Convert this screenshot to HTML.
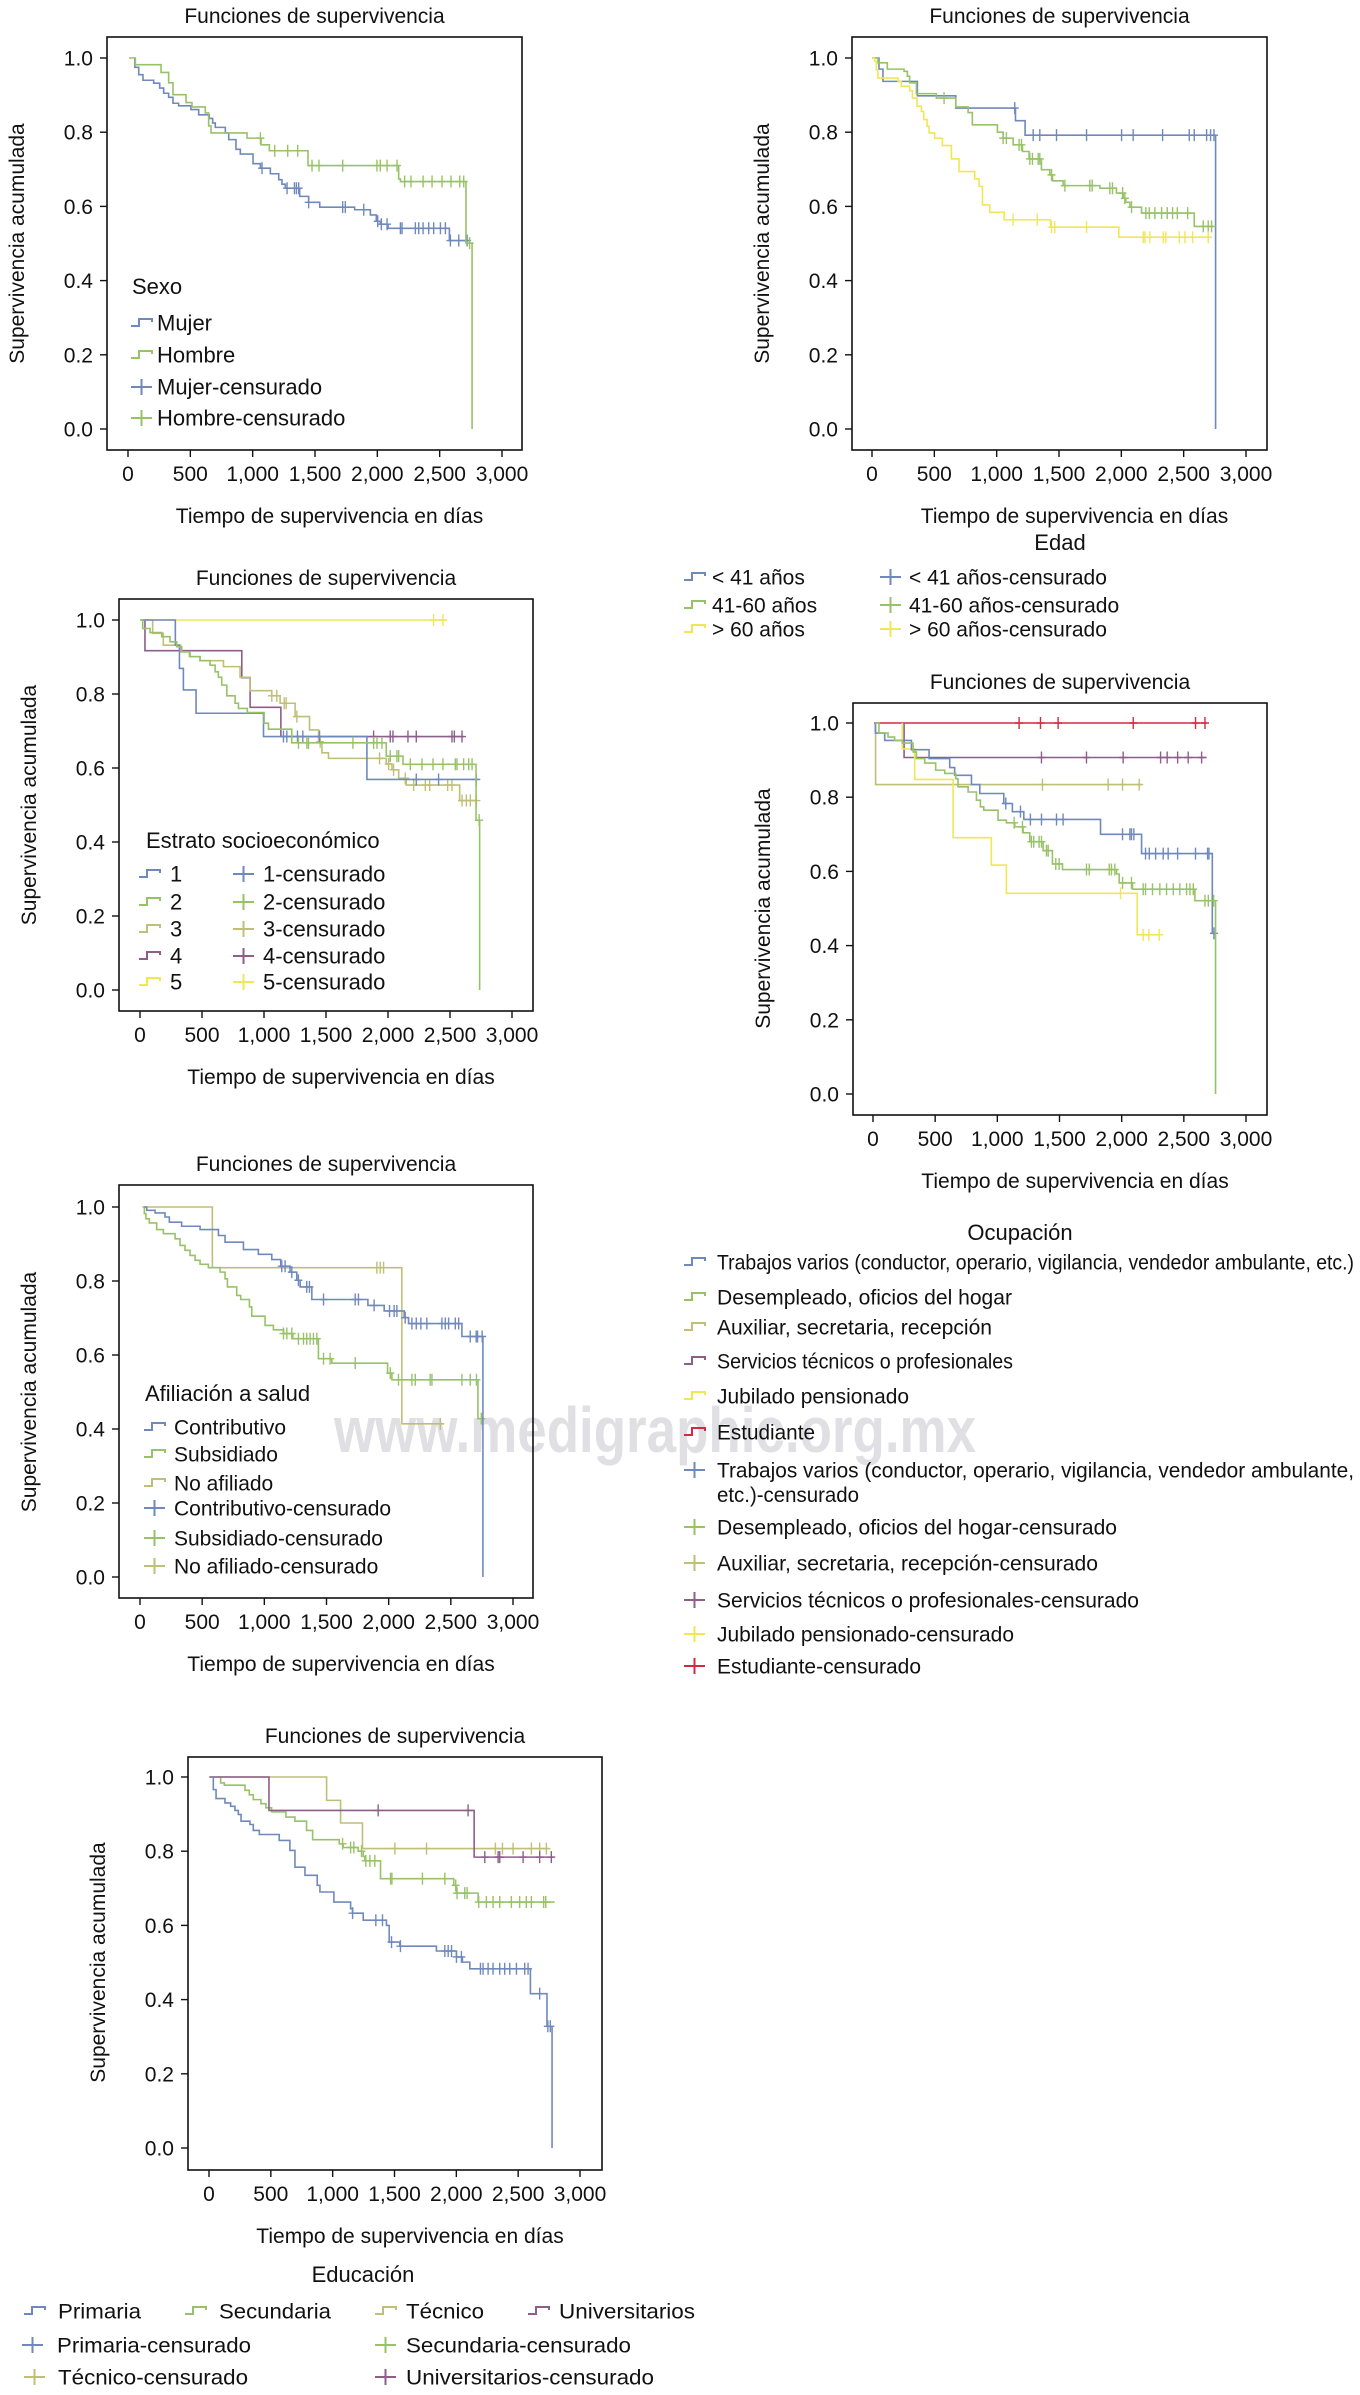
<!DOCTYPE html>
<html lang="es">
<head>
<meta charset="utf-8">
<title>Funciones de supervivencia</title>
<style>
html,body{margin:0;padding:0;background:#fff;}
body{width:1360px;height:2395px;overflow:hidden;}
svg{display:block;font-family:"Liberation Sans",Arial,sans-serif;}
</style>
</head>
<body>
<svg id="fig" xmlns="http://www.w3.org/2000/svg" width="1360" height="2395" viewBox="0 0 1360 2395">
  <rect x="0" y="0" width="1360" height="2395" fill="#fff"/>
  <text x="334" y="1452" font-size="64" font-weight="bold" fill="#e0e0e4" textLength="642" lengthAdjust="spacingAndGlyphs">www.medigraphic.org.mx</text>
</svg>
<script>
// ---------- shared tick data ----------
const yTickValues = [0, 0.2, 0.4, 0.6, 0.8, 1.0];
const yTickLabels = ["0.0", "0.2", "0.4", "0.6", "0.8", "1.0"];
const xTickValues = [0, 500, 1000, 1500, 2000, 2500, 3000];
const xTickLabels = ["0", "500", "1,000", "1,500", "2,000", "2,500", "3,000"];

// ---------- Plot 1: Sexo ----------
const p1MujerT = [55,86,120,206,254,286,326,361,406,505,567,652,679,700,781,808,866,901,1003,1062,1142,1209,1235,1262,1377,1449,1538,1818,1944,1992,2024,2086,2578];
const p1MujerS = [0.975,0.955,0.94,0.932,0.919,0.905,0.894,0.878,0.871,0.861,0.847,0.837,0.825,0.813,0.798,0.78,0.754,0.741,0.715,0.703,0.688,0.672,0.66,0.649,0.627,0.611,0.598,0.591,0.577,0.56,0.552,0.541,0.508];
const p1MujerC = [1075,1276,1335,1351,1369,1449,1722,1743,1891,2003,2032,2078,2185,2198,2305,2332,2367,2412,2452,2506,2546,2586,2653,2720];
const p1HombreT = [59,265,326,361,465,513,620,647,666,955,1067,1134,1444,2171,2185,2711,2760];
const p1HombreS = [0.982,0.961,0.933,0.901,0.88,0.868,0.852,0.817,0.798,0.784,0.766,0.75,0.71,0.674,0.667,0.501,0];
const p1HombreC = [1062,1177,1281,1361,1476,1532,1722,1997,2024,2078,2158,2219,2270,2367,2439,2519,2591,2661,2693,2740];

// ---------- Plot 2: Edad ----------
const p2MenorT = [56,88,364,672,1151,1228,2756];
const p2MenorS = [0.97,0.937,0.898,0.865,0.831,0.792,0];
const p2MenorC = [1145,1293,1346,1480,1721,2002,2095,2331,2545,2585,2684,2716,2743];
const p2MedioT = [48,123,257,284,302,356,516,672,771,805,1006,1052,1132,1207,1260,1359,1426,1448,1533,1828,1961,2015,2036,2069,2162,2585];
const p2MedioS = [0.987,0.97,0.964,0.951,0.933,0.904,0.892,0.868,0.853,0.82,0.8,0.784,0.766,0.748,0.728,0.699,0.685,0.669,0.656,0.649,0.636,0.622,0.611,0.598,0.582,0.546];
const p2MedioC = [578,1052,1078,1180,1199,1266,1287,1333,1346,1440,1547,1747,1766,1908,1929,2010,2028,2082,2197,2224,2269,2323,2368,2411,2449,2532,2657,2697,2724];
const p2MayorT = [21,35,48,209,235,302,324,361,396,415,442,458,503,565,637,698,824,859,886,945,1060,1432,1980];
const p2MayorS = [0.991,0.968,0.946,0.937,0.924,0.912,0.892,0.87,0.856,0.834,0.816,0.798,0.784,0.764,0.728,0.694,0.674,0.654,0.604,0.584,0.564,0.544,0.517];
const p2MayorC = [1132,1325,1440,1466,1721,2176,2189,2229,2336,2357,2465,2510,2572,2697];

// ---------- Plot 3: Estrato ----------
const p3E1T = [285,318,350,452,996,1830];
const p3E1S = [0.932,0.869,0.811,0.748,0.685,0.569];
const p3E1C = [1157,1184,1270,1313,1448,2228,2408,2712];
const p3E2T = [22,81,175,242,296,336,404,484,565,606,632,659,700,767,794,866,1001,1036,1224,1986,2121,2710,2739];
const p3E2S = [0.977,0.966,0.955,0.941,0.928,0.914,0.901,0.89,0.878,0.86,0.845,0.824,0.795,0.775,0.761,0.75,0.721,0.705,0.668,0.632,0.61,0.459,0];
const p3E2C = [1278,1346,1359,1717,1884,1911,1951,2018,2072,2086,2180,2274,2363,2443,2543,2556,2610,2651,2678,2735];
const p3E3T = [102,188,328,398,484,673,807,888,1063,1130,1251,1367,1440,1467,1520,1986,2032,2086,2147,2578];
const p3E3S = [0.964,0.932,0.914,0.901,0.89,0.874,0.845,0.809,0.795,0.775,0.739,0.703,0.671,0.641,0.626,0.611,0.595,0.572,0.554,0.512];
const p3E3C = [1063,1103,1163,1179,1265,1453,1932,2005,2045,2139,2207,2301,2336,2481,2516,2597,2632,2664,2713];
const p3E4T = [40,821,888,1136];
const p3E4S = [0.917,0.844,0.764,0.685];
const p3E4C = [1884,2018,2040,2161,2228,2516,2535,2597];
const p3E5T = [];
const p3E5S = [];
const p3E5C = [2368,2443];

// ---------- Plot 4: Ocupación ----------
const p4TrabT = [19,94,309,451,617,657,792,859,1052,1121,1213,1830,2160,2729];
const p4TrabS = [0.973,0.953,0.928,0.904,0.88,0.859,0.834,0.81,0.783,0.761,0.74,0.7,0.648,0.433];
const p4TrabC = [1068,1186,1266,1355,1476,1529,2007,2066,2079,2098,2192,2222,2273,2334,2374,2450,2594,2691,2702,2742];
const p4DesT = [48,121,174,236,322,349,416,504,577,665,684,765,832,864,891,1006,1073,1140,1207,1261,1368,1443,1524,1959,1980,2087,2589,2755];
const p4DesS = [0.973,0.962,0.953,0.946,0.922,0.904,0.892,0.873,0.864,0.85,0.828,0.814,0.792,0.774,0.765,0.738,0.731,0.72,0.704,0.68,0.656,0.62,0.605,0.593,0.569,0.552,0.521,0];
const p4DesC = [1135,1202,1274,1293,1336,1355,1395,1409,1470,1497,1717,1739,1900,1918,1945,2007,2079,2173,2192,2248,2307,2361,2415,2468,2522,2549,2576,2670,2697,2740];
const p4AuxT = [21];
const p4AuxS = [0.834];
const p4AuxC = [1363,1891,2007,2141];
const p4ServT = [250];
const p4ServS = [0.907];
const p4ServC = [1355,1717,2012,2313,2366,2450,2535,2643];
const p4JubT = [236,335,644,952,1073,2125];
const p4JubS = [0.93,0.848,0.691,0.617,0.541,0.429];
const p4JubC = [1991,2173,2219,2302];
const p4EstT = [];
const p4EstS = [];
const p4EstC = [1175,1347,1489,2093,2594,2670];

// ---------- Plot 5: Afiliación ----------
const p5ContT = [54,121,201,236,335,483,631,684,832,952,1060,1132,1207,1261,1288,1382,1833,1964,2125,2160,2589,2758];
const p5ContS = [0.991,0.984,0.973,0.959,0.948,0.939,0.923,0.905,0.885,0.872,0.858,0.84,0.824,0.802,0.784,0.75,0.734,0.719,0.701,0.685,0.65,0];
const p5ContC = [1140,1167,1221,1274,1341,1363,1476,1731,1757,1883,2007,2044,2066,2133,2187,2222,2259,2307,2428,2455,2482,2536,2563,2656,2704,2715,2752];
const p5SubT = [35,48,75,134,188,282,322,362,402,443,483,550,644,684,703,778,810,880,899,1006,1073,1154,1229,1435,1543,1991,2026,2718];
const p5SubS = [0.982,0.968,0.957,0.939,0.928,0.914,0.896,0.883,0.869,0.856,0.845,0.836,0.824,0.806,0.784,0.761,0.75,0.73,0.705,0.68,0.668,0.658,0.644,0.59,0.578,0.551,0.533,0.428];
const p5SubC = [1154,1181,1221,1274,1315,1341,1368,1395,1422,1476,1529,1731,2013,2079,2187,2214,2334,2348,2589,2656,2706,2745];
const p5NoT = [582,2106];
const p5NoS = [0.836,0.414];
const p5NoC = [1905,1932,1959,2415];

// ---------- Plot 6: Educación ----------
const p6PrimT = [35,57,129,175,210,237,259,331,358,407,568,654,695,776,875,897,1010,1145,1161,1247,1435,1457,1543,1839,2001,2049,2109,2599,2733,2774];
const p6PrimS = [0.966,0.942,0.93,0.921,0.91,0.899,0.881,0.872,0.856,0.845,0.829,0.802,0.757,0.735,0.708,0.69,0.663,0.645,0.633,0.614,0.6,0.555,0.544,0.531,0.515,0.501,0.483,0.416,0.328,0];
const p6PrimC = [1161,1349,1403,1476,1548,1907,1934,1961,2001,2041,2195,2216,2257,2297,2351,2391,2432,2486,2553,2580,2674,2740,2760];
const p6SecT = [94,124,291,326,358,420,460,506,622,695,789,838,1053,1085,1206,1247,1260,1387,1979,2001,2176];
const p6SecS = [0.984,0.978,0.964,0.952,0.939,0.928,0.917,0.906,0.892,0.881,0.856,0.831,0.82,0.81,0.8,0.786,0.774,0.726,0.708,0.687,0.663];
const p6SecC = [1080,1145,1171,1233,1268,1301,1341,1468,1479,1726,1907,1995,2006,2068,2087,2181,2243,2297,2351,2445,2512,2566,2607,2706,2723];
const p6TecT = [951,1064,1241];
const p6TecS = [0.937,0.876,0.807];
const p6TecC = [1503,1759,2316,2373,2459,2607,2674,2728];
const p6UniT = [485,2144];
const p6UniS = [0.91,0.784];
const p6UniC = [1368,2095,2230,2338,2351,2540,2674,2768];

// ---------- colours ----------
const BLUE = "#7089bd", GREEN = "#98c268", KHAKI = "#bfbf78", PURPLE = "#8e5e8a", YELLOW = "#efe854", RED = "#d42a40";

const svg = document.getElementById('fig');
const NS = "http://www.w3.org/2000/svg";

function mk(tag, attrs, parent) {
  const el = document.createElementNS(NS, tag);
  for (const k in attrs) el.setAttribute(k, attrs[k]);
  (parent || svg).appendChild(el);
  return el;
}
function survAt(T, S, t) {
  let s = 1;
  for (let i = 0; i < T.length; i++) { if (T[i] <= t) s = S[i]; }
  return s;
}

function drawPlot(p) {
  const g = mk('g', {});
  
  
  const X = t => p.x0 + t / 3000 * (p.x3 - p.x0);
  const Y = s => p.y0 - s * (p.y0 - p.y1);

  const title = mk('text', {x: (p.L + p.R) / 2, y: p.T - 14, 'font-size': 21, 'text-anchor': 'middle', fill: '#111'}, g);
  title.textContent = 'Funciones de supervivencia';
  
  

  const frame = mk('rect', {x: p.L, y: p.T, width: p.R - p.L, height: p.B - p.T, fill: 'none', stroke: '#111', 'stroke-width': 1.6}, g);
  
  

  yTickValues.forEach((v, i) => {
    const tk = mk('line', {x1: p.L - 7, x2: p.L, y1: Y(v), y2: Y(v), stroke: '#111', 'stroke-width': 1.4}, g);
    
    
    const lb = mk('text', {x: p.L - 14, y: Y(v) + 7.5, 'font-size': 21, 'text-anchor': 'end', fill: '#111'}, g);
    lb.textContent = yTickLabels[i];
    
    
  });
  xTickValues.forEach((v, i) => {
    const tk = mk('line', {x1: X(v), x2: X(v), y1: p.B, y2: p.B + 7, stroke: '#111', 'stroke-width': 1.4}, g);
    
    
    const lb = mk('text', {x: X(v), y: p.B + 31, 'font-size': 21, 'text-anchor': 'middle', fill: '#111'}, g);
    lb.textContent = xTickLabels[i];
    
    
  });
  const xt = mk('text', {x: (p.L + p.R) / 2 + 15, y: p.B + 73, 'font-size': 21, 'text-anchor': 'middle', fill: '#111'}, g);
  xt.textContent = 'Tiempo de supervivencia en días';
  
  
  const yc = (p.y0 + p.y1) / 2, yx = p.L - 83;
  const yt = mk('text', {x: yx, y: yc, 'font-size': 21, 'text-anchor': 'middle', fill: '#111', transform: 'rotate(-90 ' + yx + ' ' + yc + ')'}, g);
  yt.textContent = 'Supervivencia acumulada';
  
  

  p.series.forEach(se => {
    let d = 'M' + X(se.t0) + ' ' + Y(1);
    for (let i = 0; i < se.T.length; i++) {
      d += ' H' + X(se.T[i]) + ' V' + Y(se.S[i]);
    }
    const last = se.T.length ? se.S[se.T.length - 1] : 1;
    if (last > 0) d += ' H' + X(se.end);
    const path = mk('path', {d: d, fill: 'none', stroke: se.color, 'stroke-width': 1.6}, g);
    
    
    se.C.forEach(c => {
      const s = survAt(se.T, se.S, c);
      const cx = X(c), cy = Y(s);
      const m = mk('path', {d: 'M' + cx + ' ' + (cy - 6) + ' V' + (cy + 6) + ' M' + (cx - 4) + ' ' + cy + ' H' + (cx + 4), stroke: se.color, 'stroke-width': 1.4, fill: 'none'}, g);
      
      
    });
  });
  return g;
}

function legendTitle(txt, x, y, anchor) {
  const t = mk('text', {x: x, y: y, 'font-size': 22, 'text-anchor': anchor || 'start', fill: '#111'});
  t.textContent = txt;
  
  
}
function legendItem(txt, color, censored, sx, cy, tx, fs, tlen) {
  const w = 21;
  let d;
  if (censored) d = 'M' + sx + ' ' + cy + ' H' + (sx + w) + ' M' + (sx + w / 2) + ' ' + (cy - 8) + ' V' + (cy + 8);
  else d = 'M' + sx + ' ' + (cy + 3) + ' H' + (sx + 8) + ' V' + (cy - 4) + ' H' + (sx + w) + ' V' + (cy - 1);
  const sym = mk('path', {d: d, fill: 'none', stroke: color, 'stroke-width': 2});
  
  
  const a = {x: tx, y: cy + 7.5, 'font-size': fs || 22, fill: '#111'};
  if (tlen) { a.textLength = tlen; a.lengthAdjust = 'spacingAndGlyphs'; }
  const t = mk('text', a);
  t.textContent = txt;
  
  
}

// ---------- draw plots ----------
drawPlot({id: 'sexo', L: 107, R: 522, T: 37, B: 450, x0: 128, x3: 502, y1: 58, y0: 429, series: [
  {key: 'mujer', color: BLUE, t0: 50, T: p1MujerT, S: p1MujerS, C: p1MujerC, end: 2746},
  {key: 'hombre', color: GREEN, t0: 8, T: p1HombreT, S: p1HombreS, C: p1HombreC, end: 2760}
]});
drawPlot({id: 'edad', L: 852, R: 1267, T: 37, B: 450, x0: 872, x3: 1246, y1: 58, y0: 429, series: [
  {key: 'menor-41', color: BLUE, t0: 0, T: p2MenorT, S: p2MenorS, C: p2MenorC, end: 2756},
  {key: 'edad-41-60', color: GREEN, t0: 5, T: p2MedioT, S: p2MedioS, C: p2MedioC, end: 2738},
  {key: 'mayor-60', color: YELLOW, t0: 0, T: p2MayorT, S: p2MayorS, C: p2MayorC, end: 2724}
]});
drawPlot({id: 'estrato', L: 119, R: 533, T: 599, B: 1011, x0: 140, x3: 512, y1: 620, y0: 990, series: [
  {key: 'estrato-5', color: YELLOW, t0: 13, T: p3E5T, S: p3E5S, C: p3E5C, end: 2470},
  {key: 'estrato-4', color: PURPLE, t0: 40, T: p3E4T, S: p3E4S, C: p3E4C, end: 2610},
  {key: 'estrato-3', color: KHAKI, t0: 0, T: p3E3T, S: p3E3S, C: p3E3C, end: 2718},
  {key: 'estrato-1', color: BLUE, t0: 10, T: p3E1T, S: p3E1S, C: p3E1C, end: 2731},
  {key: 'estrato-2', color: GREEN, t0: 0, T: p3E2T, S: p3E2S, C: p3E2C, end: 2739}
]});
drawPlot({id: 'ocupacion', L: 853, R: 1267, T: 703, B: 1115, x0: 873, x3: 1246, y1: 723, y0: 1094, series: [
  {key: 'estudiante', color: RED, t0: 8, T: p4EstT, S: p4EstS, C: p4EstC, end: 2683},
  {key: 'servicios', color: PURPLE, t0: 242, T: p4ServT, S: p4ServS, C: p4ServC, end: 2683},
  {key: 'auxiliar', color: KHAKI, t0: 21, T: p4AuxT, S: p4AuxS, C: p4AuxC, end: 2160},
  {key: 'jubilado', color: YELLOW, t0: 236, T: p4JubT, S: p4JubS, C: p4JubC, end: 2313},
  {key: 'trabajos', color: BLUE, t0: 13, T: p4TrabT, S: p4TrabS, C: p4TrabC, end: 2750},
  {key: 'desempleado', color: GREEN, t0: 13, T: p4DesT, S: p4DesS, C: p4DesC, end: 2755}
]});
drawPlot({id: 'afiliacion', L: 119, R: 533, T: 1185, B: 1598, x0: 140, x3: 513, y1: 1207, y0: 1577, series: [
  {key: 'no-afiliado', color: KHAKI, t0: 19, T: p5NoT, S: p5NoS, C: p5NoC, end: 2441},
  {key: 'subsidiado', color: GREEN, t0: 27, T: p5SubT, S: p5SubS, C: p5SubC, end: 2760},
  {key: 'contributivo', color: BLUE, t0: 35, T: p5ContT, S: p5ContS, C: p5ContC, end: 2758}
]});
drawPlot({id: 'educacion', L: 188, R: 602, T: 1757, B: 2170, x0: 209, x3: 580, y1: 1777, y0: 2148, series: [
  {key: 'tecnico', color: KHAKI, t0: 3, T: p6TecT, S: p6TecS, C: p6TecC, end: 2750},
  {key: 'secundaria', color: GREEN, t0: 89, T: p6SecT, S: p6SecS, C: p6SecC, end: 2795},
  {key: 'universitarios', color: PURPLE, t0: 3, T: p6UniT, S: p6UniS, C: p6UniC, end: 2782},
  {key: 'primaria', color: BLUE, t0: 30, T: p6PrimT, S: p6PrimS, C: p6PrimC, end: 2774}
]});

// ---------- legends ----------
legendTitle('Sexo', 132, 294);
legendItem('Mujer', BLUE, false, 131, 323, 157);
legendItem('Hombre', GREEN, false, 131, 355, 157);
legendItem('Mujer-censurado', BLUE, true, 131, 387, 157);
legendItem('Hombre-censurado', GREEN, true, 131, 418, 157);

legendTitle('Edad', 1060, 550, 'middle');
legendItem('< 41 años', BLUE, false, 684, 577, 712, 21);
legendItem('41-60 años', GREEN, false, 684, 605, 712, 21);
legendItem('> 60 años', YELLOW, false, 684, 629, 712, 21);
legendItem('< 41 años-censurado', BLUE, true, 880, 577, 909, 21);
legendItem('41-60 años-censurado', GREEN, true, 880, 605, 909, 21);
legendItem('> 60 años-censurado', YELLOW, true, 880, 629, 909, 21);

legendTitle('Estrato socioeconómico', 146, 848);
legendItem('1', BLUE, false, 139, 874, 170);
legendItem('2', GREEN, false, 139, 902, 170);
legendItem('3', KHAKI, false, 139, 929, 170);
legendItem('4', PURPLE, false, 139, 956, 170);
legendItem('5', YELLOW, false, 139, 982, 170);
legendItem('1-censurado', BLUE, true, 233, 874, 263);
legendItem('2-censurado', GREEN, true, 233, 902, 263);
legendItem('3-censurado', KHAKI, true, 233, 929, 263);
legendItem('4-censurado', PURPLE, true, 233, 956, 263);
legendItem('5-censurado', YELLOW, true, 233, 982, 263);

legendTitle('Ocupación', 1020, 1240, 'middle');
legendItem('Trabajos varios (conductor, operario, vigilancia, vendedor ambulante, etc.)', BLUE, false, 684, 1262, 717, 21, 637);
legendItem('Desempleado, oficios del hogar', GREEN, false, 684, 1297, 717, 21, 295);
legendItem('Auxiliar, secretaria, recepción', KHAKI, false, 684, 1327, 717, 21, 275);
legendItem('Servicios técnicos o profesionales', PURPLE, false, 684, 1361, 717, 21, 296);
legendItem('Jubilado pensionado', YELLOW, false, 684, 1396, 717, 21, 192);
legendItem('Estudiante', RED, false, 684, 1432, 717, 21, 98);
legendItem('Trabajos varios (conductor, operario, vigilancia, vendedor ambulante,', BLUE, true, 684, 1470, 717, 21, 637);
(function () {
  const t = mk('text', {x: 717, y: 1502, 'font-size': 21, fill: '#111', textLength: 142, lengthAdjust: 'spacingAndGlyphs'});
  t.textContent = 'etc.)-censurado';
  
  
})();
legendItem('Desempleado, oficios del hogar-censurado', GREEN, true, 684, 1527, 717, 21, 400);
legendItem('Auxiliar, secretaria, recepción-censurado', KHAKI, true, 684, 1563, 717, 21, 381);
legendItem('Servicios técnicos o profesionales-censurado', PURPLE, true, 684, 1600, 717, 21, 422);
legendItem('Jubilado pensionado-censurado', YELLOW, true, 684, 1634, 717, 21, 297);
legendItem('Estudiante-censurado', RED, true, 684, 1666, 717, 21, 204);

legendTitle('Afiliación a salud', 145, 1401);
legendItem('Contributivo', BLUE, false, 144, 1427, 174, 21);
legendItem('Subsidiado', GREEN, false, 144, 1454, 174, 21);
legendItem('No afiliado', KHAKI, false, 144, 1483, 174, 21);
legendItem('Contributivo-censurado', BLUE, true, 144, 1508, 174, 21);
legendItem('Subsidiado-censurado', GREEN, true, 144, 1538, 174, 21);
legendItem('No afiliado-censurado', KHAKI, true, 144, 1566, 174, 21);

legendTitle('Educación', 363, 2282, 'middle');
legendItem('Primaria', BLUE, false, 24, 2311, 58, 21, 83);
legendItem('Secundaria', GREEN, false, 185, 2311, 219, 21, 112);
legendItem('Técnico', KHAKI, false, 375, 2311, 406, 21, 78);
legendItem('Universitarios', PURPLE, false, 528, 2311, 559, 21, 136);
legendItem('Primaria-censurado', BLUE, true, 22, 2345, 57, 21, 194);
legendItem('Secundaria-censurado', GREEN, true, 375, 2345, 406, 21, 225);
legendItem('Técnico-censurado', KHAKI, true, 24, 2377, 58, 21, 190);
legendItem('Universitarios-censurado', PURPLE, true, 375, 2377, 406, 21, 248);
</script>
</body>
</html>
